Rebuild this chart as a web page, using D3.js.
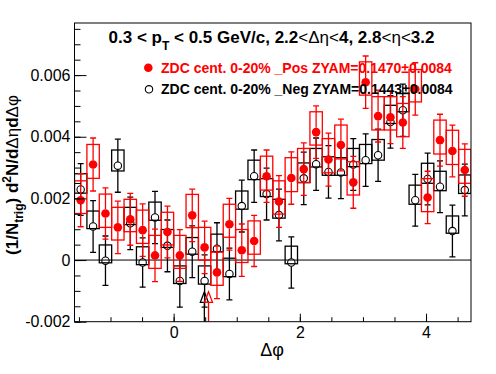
<!DOCTYPE html>
<html>
<head>
<meta charset="utf-8">
<script src="https://cdn.jsdelivr.net/npm/d3@7"></script>
<style>
  body { margin: 0; background: #fff; }
  text { font-family: "Liberation Sans", Arial, Helvetica, sans-serif; }
</style>
</head>
<body>
<figure id="plot" style="margin:0"></figure>
<script>
// delta phi bin centers, 32 bins from -pi/2 to 3pi/2
const dphi = [-1.473, -1.276, -1.080, -0.884, -0.687, -0.491, -0.295, -0.098,
               0.098,  0.295,  0.491,  0.687,  0.884,  1.080,  1.276,  1.473,
               1.669,  1.865,  2.062,  2.258,  2.454,  2.651,  2.847,  3.043,
               3.240,  3.436,  3.632,  3.829,  4.025,  4.221,  4.418,  4.614];
const binWidth = 0.19635;

// ZDC cent. 0-20% _Pos (red)
const posY = [0.00194, 0.00310, 0.00151, 0.00106, 0.00132, 0.00097, 0.00015, 0.00091,
              0.00015, 0.00145, 0.00041, -0.00040, 0.00116, 0.00032, 0.00062, 0.00272,
              0.00190, 0.00266, 0.00295, 0.00415, 0.00326, 0.00373, 0.00252, 0.00577,
              0.00467, 0.00463, 0.00446, 0.00555, 0.00203, 0.00389, 0.00354, 0.00292];
const posStat = [0.00086, 0.00086, 0.00083, 0.00085, 0.00084, 0.00085, 0.00085, 0.00084,
                 0.00084, 0.00085, 0.00085, 0.00085, 0.00084, 0.00085, 0.00083, 0.00085,
                 0.00084, 0.00085, 0.00085, 0.00085, 0.00086, 0.00084, 0.00084, 0.00085,
                 0.00084, 0.00085, 0.00084, 0.00085, 0.00085, 0.00084, 0.00084, 0.00085];
const posSysUp = [0.00063, 0.00065, 0.00063, 0.00065, 0.00065, 0.00065, 0.00065, 0.00064,
                  0.00065, 0.00068, 0.00065, 0.00066, 0.00065, 0.00067, 0.00065, 0.00065,
                  0.00067, 0.00066, 0.00067, 0.00066, 0.00068, 0.00065, 0.00067, 0.00066,
                  0.00063, 0.00067, 0.00062, 0.00063, 0.00061, 0.00065, 0.00067, 0.00067];
const posSysDn = [0.00043, 0.00045, 0.00045, 0.00041, 0.00040, 0.00043, 0.00042, 0.00042,
                  0.00042, 0.00040, 0.00041, 0.00042, 0.00042, 0.00040, 0.00043, 0.00045,
                  0.00041, 0.00044, 0.00043, 0.00042, 0.00043, 0.00045, 0.00041, 0.00042,
                  0.00045, 0.00041, 0.00046, 0.00042, 0.00046, 0.00045, 0.00044, 0.00043];

// ZDC cent. 0-20% _Neg (black)
const negY = [0.00229, 0.00109, -0.00002, 0.00306, 0.00119, -0.00008, 0.00138, 0.00046,
              -0.00068, 0.00027, -0.00068, 0.00037, -0.00045, 0.00175, 0.00272, 0.00214,
              0.00146, -0.00008, 0.00265, 0.00311, 0.00286, 0.00284, 0.00310, 0.00324,
              0.00340, 0.00448, 0.00486, 0.00194, 0.00263, 0.00238, 0.00094, 0.00227];
const negStat = [0.00084, 0.00084, 0.00080, 0.00086, 0.00085, 0.00080, 0.00085, 0.00084,
                 0.00085, 0.00084, 0.00085, 0.00084, 0.00084, 0.00084, 0.00085, 0.00084,
                 0.00084, 0.00083, 0.00085, 0.00085, 0.00085, 0.00085, 0.00084, 0.00085,
                 0.00085, 0.00085, 0.00085, 0.00084, 0.00084, 0.00084, 0.00084, 0.00084];
const negSysUp = [0.00051, 0.00050, 0.00051, 0.00051, 0.00052, 0.00051, 0.00050, 0.00053,
                  0.00049, 0.00046, 0.00049, 0.00047, 0.00051, 0.00049, 0.00052, 0.00050,
                  0.00051, 0.00053, 0.00050, 0.00051, 0.00049, 0.00048, 0.00052, 0.00051,
                  0.00051, 0.00054, 0.00054, 0.00049, 0.00051, 0.00050, 0.00049, 0.00049];
const negSysDn = [0.00012, 0.00007, 0.00007, 0.00017, 0.00004, 0.00007, 0.00009, 0.00005,
                  0.00008, 0.00008, 0.00010, 0.00010, 0.00009, 0.00010, 0.00011, 0.00008,
                  0.00010, 0.00004, 0.00014, 0.00009, 0.00011, 0.00009, 0.00007, 0.00011,
                  0.00016, 0.00005, 0.00005, 0.00013, 0.00014, 0.00013, 0.00007, 0.00011];

// ZYAM minimum arrows: [neg, pos]
const zyamX = [0.487, 0.553];
const zyamTip = -0.00103;

const xTicks = [0, 2, 4];
const yTicks = [-0.002, 0, 0.002, 0.004, 0.006];
const yTickLabels = ["-0.002", "0", "0.002", "0.004", "0.006"];

const legendLabels = ["ZDC cent. 0-20% _Pos ZYAM=0.1470\u00b10.0084",
                      "ZDC cent. 0-20% _Neg ZYAM=0.1443\u00b10.0084"];

const width = 496, height = 374;
const frame = { left: 74.5, right: 471, top: 23, bottom: 321.7 };

const svg = d3.select("#plot").append("svg")
  .attr("width", width)
  .attr("height", height);

const x = d3.scaleLinear().domain([-Math.PI / 2, 3 * Math.PI / 2]).range([frame.left, frame.right]);
const y = d3.scaleLinear().domain([-0.002, 0.00769]).range([frame.bottom, frame.top]);

svg.append("clipPath").attr("id", "clip")
  .append("rect")
  .attr("x", frame.left).attr("y", frame.top)
  .attr("width", frame.right - frame.left).attr("height", frame.bottom - frame.top);

const plot = svg.append("g").attr("clip-path", "url(#clip)");

// zero line
plot.append("line")
  .attr("x1", frame.left).attr("x2", frame.right)
  .attr("y1", y(0)).attr("y2", y(0))
  .attr("stroke", "#000").attr("stroke-width", 1);

function drawSeries(vals, stat, sysUp, sysDn, color, filled) {
  const g = plot.append("g");
  const r = filled ? 4.3 : 3.7;
  const data = vals.map((v, i) => ({ x: dphi[i], v: v, s: stat[i], up: sysUp[i], dn: sysDn[i] }));

  // systematic boxes
  g.selectAll("rect.sys").data(data).enter().append("rect")
    .attr("x", d => x(d.x - binWidth / 2))
    .attr("width", d => x(d.x + binWidth / 2) - x(d.x - binWidth / 2))
    .attr("y", d => y(d.v + d.up))
    .attr("height", d => y(d.v - d.dn) - y(d.v + d.up))
    .attr("fill", "none")
    .attr("stroke", color)
    .attr("stroke-width", 1.3);

  // stat error bars (gap around the marker)
  g.selectAll("line.up").data(data).enter().append("line")
    .attr("x1", d => x(d.x)).attr("x2", d => x(d.x))
    .attr("y1", d => y(d.v + d.s)).attr("y2", d => y(d.v) - r)
    .attr("stroke", color).attr("stroke-width", 1.3);
  g.selectAll("line.dn").data(data).enter().append("line")
    .attr("x1", d => x(d.x)).attr("x2", d => x(d.x))
    .attr("y1", d => y(d.v) + r).attr("y2", d => y(d.v - d.s))
    .attr("stroke", color).attr("stroke-width", 1.3);
  ["top", "bot"].forEach(end => {
    g.selectAll("line.cap" + end).data(data).enter().append("line")
      .attr("x1", d => x(d.x) - 3).attr("x2", d => x(d.x) + 3)
      .attr("y1", d => y(end == "top" ? d.v + d.s : d.v - d.s))
      .attr("y2", d => y(end == "top" ? d.v + d.s : d.v - d.s))
      .attr("stroke", color).attr("stroke-width", 1.3);
  });

  // markers
  g.selectAll("circle").data(data).enter().append("circle")
    .attr("cx", d => x(d.x)).attr("cy", d => y(d.v))
    .attr("r", r)
    .attr("fill", filled ? color : "none")
    .attr("stroke", color)
    .attr("stroke-width", filled ? 0 : 1.1);
}

drawSeries(negY, negStat, negSysUp, negSysDn, "#000", false);
drawSeries(posY, posStat, posSysUp, posSysDn, "#ff0000", true);

// ZYAM arrows
zyamX.forEach((ax, i) => {
  const color = i == 0 ? "#000" : "#ff0000";
  const px = x(ax), tip = y(zyamTip), base = tip + 10.5;
  plot.append("line")
    .attr("x1", px).attr("x2", px).attr("y1", base).attr("y2", y(-0.002))
    .attr("stroke", color).attr("stroke-width", 1.3);
  plot.append("path")
    .attr("d", `M${px},${tip} L${px - 4},${base} L${px + 4},${base} Z`)
    .attr("fill", "none").attr("stroke", color).attr("stroke-width", 1.3);
});

// frame
svg.append("rect")
  .attr("x", frame.left).attr("y", frame.top)
  .attr("width", frame.right - frame.left).attr("height", frame.bottom - frame.top)
  .attr("fill", "none").attr("stroke", "#000").attr("stroke-width", 1);

// axes (ROOT style, ticks inside)
const yMajor = svg.append("g").attr("transform", `translate(${frame.left},0)`)
  .call(d3.axisLeft(y).tickValues(yTicks).tickSize(-12).tickPadding(4)
    .tickFormat((d, i) => yTickLabels[i]));
svg.append("g").attr("transform", `translate(${frame.left},0)`)
  .call(d3.axisLeft(y).tickValues(d3.range(-0.002, 0.0076, 0.0005)).tickSize(-6).tickFormat(""));
const xMajor = svg.append("g").attr("transform", `translate(0,${frame.bottom})`)
  .call(d3.axisBottom(x).tickValues(xTicks).tickSize(-8).tickPadding(5).tickFormat(d3.format("d")));
svg.append("g").attr("transform", `translate(0,${frame.bottom})`)
  .call(d3.axisBottom(x).tickValues(d3.range(-1.5, 4.75, 0.5)).tickSize(-4.5).tickFormat(""));

svg.selectAll(".domain").remove();
svg.selectAll(".tick line").attr("stroke", "#000").attr("stroke-width", 1);
svg.selectAll(".tick text")
  .attr("font-family", "'Liberation Sans', Arial, sans-serif")
  .attr("font-size", 16)
  .attr("fill", "#000");

// axis titles
svg.append("text")
  .attr("x", 272).attr("y", 356)
  .attr("text-anchor", "middle")
  .attr("font-size", 18)
  .text("\u0394\u03c6");

const ylab = svg.append("text")
  .attr("transform", "translate(18,175) rotate(-90)")
  .attr("text-anchor", "middle")
  .attr("font-size", 17)
  .attr("font-weight", "bold");
ylab.append("tspan").text("(1/N");
ylab.append("tspan").attr("dy", 5).attr("font-size", 12).text("trig");
ylab.append("tspan").attr("dy", -5).text(") d");
ylab.append("tspan").attr("dy", -7).attr("font-size", 12).text("2");
ylab.append("tspan").attr("dy", 7).text("N/d");
ylab.append("tspan").attr("font-weight", "normal").text("\u0394\u03b7");
ylab.append("tspan").text("d");
ylab.append("tspan").attr("font-weight", "normal").text("\u0394\u03c6");

// title
const title = svg.append("text")
  .attr("x", 271.5).attr("y", 43)
  .attr("text-anchor", "middle")
  .attr("font-size", 17)
  .attr("font-weight", "bold");
title.append("tspan").text("0.3 < p");
title.append("tspan").attr("dy", 7).attr("font-size", 12).text("T");
title.append("tspan").attr("dy", -7).text(" < 0.5 GeV/c, 2.2");
title.append("tspan").attr("font-weight", "normal").text("<\u0394\u03b7<");
title.append("tspan").text("4, 2.8");
title.append("tspan").attr("font-weight", "normal").text("<\u03b7<");
title.append("tspan").text("3.2");

// legend
const legend = svg.append("g");
legend.append("circle").attr("cx", 148.3).attr("cy", 67.7).attr("r", 4.3).attr("fill", "#ff0000");
legend.append("text").attr("x", 161).attr("y", 72.7)
  .attr("font-size", 14).attr("font-weight", "bold").attr("fill", "#ff0000")
  .text(legendLabels[0]);
legend.append("circle").attr("cx", 149).attr("cy", 89.3).attr("r", 3.7)
  .attr("fill", "none").attr("stroke", "#000").attr("stroke-width", 1.1);
legend.append("text").attr("x", 161).attr("y", 93.5)
  .attr("font-size", 14).attr("font-weight", "bold").attr("fill", "#000")
  .text(legendLabels[1]);
</script>
</body>
</html>
